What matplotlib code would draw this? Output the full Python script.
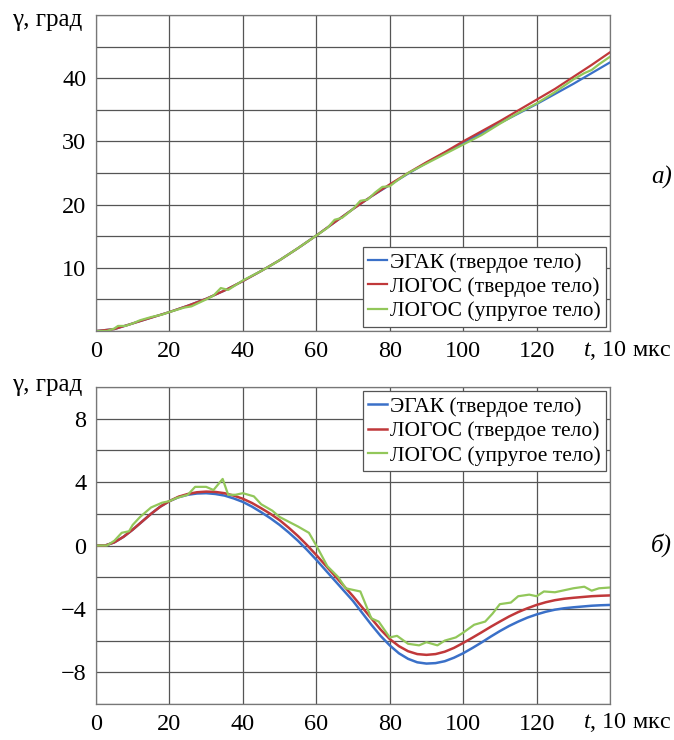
import matplotlib.pyplot as plt

plt.rcParams["font.family"] = "serif"
plt.rcParams["font.serif"] = ["Liberation Serif", "DejaVu Serif"]
plt.rcParams["mathtext.fontset"] = "custom"
plt.rcParams["mathtext.rm"] = "Liberation Serif"
plt.rcParams["mathtext.it"] = "Liberation Serif:italic"
plt.rcParams["font.size"] = 17

# time axis, 10 мкс units
t = [0, 5, 10, 15, 20, 25, 30, 35, 40, 45, 50, 55, 60, 65, 70,
     75, 80, 85, 90, 95, 100, 105, 110, 115, 120, 125, 130, 135, 140]

# panel a) - rotation angle
egak_a = [0, 0.3, 1.2, 2.1, 3.0, 4.0, 5.1, 6.4, 7.9, 9.5, 11.2, 13.1, 15.1, 17.2, 19.3,
          21.3, 23.1, 24.9, 26.6, 28.2, 29.7, 31.3, 32.9, 34.4, 35.9, 37.5, 39.1, 40.8, 42.5]
logos_a = [0, 0.3, 1.2, 2.1, 3.0, 4.0, 5.1, 6.4, 7.9, 9.5, 11.2, 13.1, 15.1, 17.2, 19.3,
           21.3, 23.2, 25.0, 26.7, 28.3, 30.0, 31.6, 33.2, 34.9, 36.6, 38.3, 40.2, 42.1, 44.1]
t_el_a = [0, 3, 5, 6, 8, 10, 12, 15, 18, 20, 24, 26, 30, 32, 34, 36, 40, 42, 45, 48, 50,
          55, 60, 63, 65, 67, 70, 72, 74, 76, 78, 80, 82, 85, 90, 95, 100, 105, 110,
          115, 120, 125, 130, 133, 135, 137, 140]
elast_a = [0, 0, 0.4, 0.8, 0.8, 1.2, 1.7, 2.2, 2.6, 3.0, 3.7, 3.9, 5.0, 5.6, 6.8, 6.5, 8.0,
           8.6, 9.5, 10.5, 11.2, 13.1, 15.1, 16.3, 17.6, 17.9, 19.3, 20.6, 20.8, 21.9, 22.8,
           22.9, 23.8, 25.0, 26.5, 28.0, 29.5, 31.0, 32.8, 34.5, 36.0, 37.8, 39.8, 40.8,
           41.3, 42.2, 43.4]

# panel б)
t_b = [0, 2.5, 5, 7.5, 10, 12.5, 15, 17.5, 20, 22.5, 25, 27.5, 30, 32.5, 35, 37.5, 40,
       42.5, 45, 47.5, 50, 52.5, 55, 57.5, 60, 62.5, 65, 67.5, 70, 72.5, 75, 77.5, 80,
       82.5, 85, 87.5, 90, 92.5, 95, 97.5, 100, 102.5, 105, 107.5, 110, 112.5, 115,
       117.5, 120, 122.5, 125, 127.5, 130, 132.5, 135, 137.5, 140]
egak_b = [0, 0.0, 0.2, 0.55, 1.0, 1.5, 2.0, 2.45, 2.8, 3.05, 3.2, 3.28, 3.3, 3.25, 3.15,
          2.97, 2.75, 2.45, 2.1, 1.72, 1.3, 0.82, 0.3, -0.28, -0.9, -1.55, -2.2, -2.85,
          -3.5, -4.25, -5.0, -5.7, -6.3, -6.8, -7.15, -7.37, -7.45, -7.42, -7.3, -7.08,
          -6.8, -6.47, -6.12, -5.75, -5.4, -5.08, -4.8, -4.55, -4.35, -4.18, -4.05, -3.96,
          -3.9, -3.85, -3.8, -3.77, -3.75]
logos_b = [0, 0.0, 0.2, 0.55, 1.0, 1.5, 2.0, 2.45, 2.8, 3.08, 3.25, 3.36, 3.4, 3.38, 3.3,
           3.15, 2.95, 2.68, 2.35, 2.0, 1.6, 1.12, 0.6, 0.02, -0.6, -1.25, -1.9, -2.55,
           -3.2, -3.9, -4.6, -5.3, -5.9, -6.35, -6.67, -6.85, -6.9, -6.85, -6.7, -6.46,
           -6.15, -5.82, -5.48, -5.13, -4.8, -4.48, -4.2, -3.96, -3.75, -3.58, -3.45,
           -3.36, -3.3, -3.25, -3.2, -3.17, -3.15]
t_el_b = [0, 3, 5, 7, 9, 10, 12, 15, 18, 20, 22, 25, 27, 30, 32, 34.5, 36, 38, 40, 43, 45,
          48, 50, 55, 58, 60, 63, 66, 68, 70, 72, 75, 77, 80, 82, 85, 88, 90, 93, 95, 98,
          100, 103, 106, 108, 110, 113, 115, 118, 120, 122, 125, 128, 130, 133, 135, 137, 140]
elast_b = [0, 0, 0.3, 0.8, 0.9, 1.3, 1.8, 2.4, 2.7, 2.8, 3.0, 3.2, 3.7, 3.7, 3.5, 4.2, 3.2,
           3.2, 3.3, 3.1, 2.6, 2.2, 1.8, 1.2, 0.8, 0.0, -1.3, -2.0, -2.7, -2.8, -2.9, -4.6,
           -4.8, -5.8, -5.7, -6.2, -6.3, -6.1, -6.3, -6.0, -5.8, -5.5, -5.0, -4.8, -4.3,
           -3.7, -3.6, -3.2, -3.1, -3.2, -2.9, -2.95, -2.8, -2.7, -2.6, -2.85, -2.7, -2.65]

labels = ["ЭГАК (твердое тело)", "ЛОГОС (твердое тело)", "ЛОГОС (упругое тело)"]
colors = ["#3A70C8", "#C0383A", "#92C75A"]

fig = plt.figure(figsize=(6.74, 7.4), dpi=100)
ax1 = fig.add_axes([96 / 674, 1 - 331 / 740, 514 / 674, 316 / 740])
ax2 = fig.add_axes([96 / 674, 1 - 704 / 740, 514 / 674, 317 / 740])


def style(ax, ylim, yticks, ygrid, ylabels):
    ax.set_xlim(0, 140)
    ax.set_ylim(*ylim)
    ax.set_xticks([0, 20, 40, 60, 80, 100, 120, 140])
    ax.set_xticklabels(["0", "20", "40", "60", "80", "100", "120", ""])
    ax.set_yticks(ygrid)
    ax.set_yticklabels([lab if v in yticks else "" for v, lab in zip(ygrid, ylabels)])
    ax.grid(True, color="#555555", linewidth=0.9)
    ax.tick_params(length=0, pad=7, labelsize=17.5)
    for s in ax.spines.values():
        s.set_color("#777777")
        s.set_linewidth(0.9)
    ax.set_axisbelow(True)


ygrid_a = [0, 5, 10, 15, 20, 25, 30, 35, 40, 45, 50]
style(ax1, (0, 50), [10, 20, 30, 40], ygrid_a, [str(v) for v in ygrid_a])
ygrid_b = [-10, -8, -6, -4, -2, 0, 2, 4, 6, 8, 10]
style(ax2, (-10, 10), [-8, -4, 0, 4, 8], ygrid_b,
      [str(v).replace("-", "\u2212") for v in ygrid_b])

ax1.plot(t, egak_a, color=colors[0], lw=1.6, label=labels[0])
ax1.plot(t, logos_a, color=colors[1], lw=1.6, label=labels[1])
ax1.plot(t_el_a, elast_a, color=colors[2], lw=1.6, label=labels[2])

ax2.plot(t_b, egak_b, color=colors[0], lw=1.8, label=labels[0])
ax2.plot(t_b, logos_b, color=colors[1], lw=1.8, label=labels[1])
ax2.plot(t_el_b, elast_b, color=colors[2], lw=1.6, label=labels[2])

for ax, loc in [(ax1, "lower right"), (ax2, "upper right")]:
    leg = ax.legend(loc=loc, fontsize=15.5, frameon=True, fancybox=False,
                    handlelength=0.9, handletextpad=0.1, borderpad=0.25,
                    labelspacing=0.2, borderaxespad=0.2, framealpha=1)
    leg.get_frame().set_edgecolor("#555555")
    leg.get_frame().set_linewidth(0.9)

fig.text(82 / 674, 1 - 20 / 740, "γ, град", ha="right", va="center", fontsize=18)
fig.text(82 / 674, 1 - 385 / 740, "γ, град", ha="right", va="center", fontsize=18)
fig.text(671 / 674, 1 - 351 / 740, "$\\it{t}$, 10 мкс", ha="right", va="center", fontsize=17.5)
fig.text(671 / 674, 1 - 723 / 740, "$\\it{t}$, 10 мкс", ha="right", va="center", fontsize=17.5)
fig.text(672 / 674, 1 - 177 / 740, "а)", ha="right", va="center", fontsize=18, style="italic")
fig.text(672 / 674, 1 - 545 / 740, "б)", ha="right", va="center", fontsize=18, style="italic")

fig.savefig("out.png", dpi=100)
